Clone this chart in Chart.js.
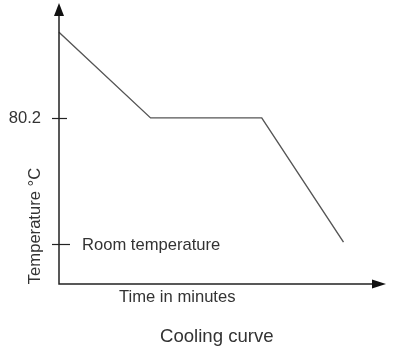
<!DOCTYPE html>
<html>
<head>
<meta charset="utf-8">
<script src="https://cdn.jsdelivr.net/npm/chart.js@4"></script>
<style>
html,body{margin:0;padding:0;background:#fff;}
canvas{display:block;}
</style>
</head>
<body>
<canvas id="c" width="408" height="358"></canvas>
<script>
// Data (arbitrary time units, temperature in °C)
const timeValues = [0, 2.8, 6.2, 8.7];
const temperatureValues = [121, 80.2, 80.2, 21];
const tickValues = [80.2, 20];
const tickLabels = ["80.2", "Room temperature"];
const xAxisTitle = "Time in minutes";
const yAxisTitle = "Temperature °C";
const chartTitle = "Cooling curve";

const FONT = '"Liberation Sans", Arial, sans-serif';
const TEXT = '#333';

const axesPlugin = {
  id: 'axesPlugin',
  afterDraw(chart) {
    const ctx = chart.ctx;
    const a = chart.chartArea;
    const ys = chart.scales.y;
    ctx.save();
    // axes
    ctx.strokeStyle = '#222';
    ctx.lineWidth = 1.5;
    ctx.beginPath();
    ctx.moveTo(a.left, a.top + 8);
    ctx.lineTo(a.left, a.bottom);
    ctx.lineTo(a.right - 8, a.bottom);
    ctx.stroke();
    ctx.fillStyle = '#111';
    // y arrow
    ctx.beginPath();
    ctx.moveTo(a.left, a.top);
    ctx.lineTo(a.left - 5, a.top + 13);
    ctx.lineTo(a.left + 5, a.top + 13);
    ctx.closePath();
    ctx.fill();
    // x arrow
    ctx.beginPath();
    ctx.moveTo(a.right, a.bottom);
    ctx.lineTo(a.right - 14, a.bottom - 4.5);
    ctx.lineTo(a.right - 14, a.bottom + 4.5);
    ctx.closePath();
    ctx.fill();
    // ticks crossing the axis
    ctx.strokeStyle = '#222';
    ctx.lineWidth = 1.2;
    const tickRight = [8, 11];
    tickValues.forEach((v, i) => {
      const y = Math.round(ys.getPixelForValue(v)) + 0.5;
      ctx.beginPath();
      ctx.moveTo(a.left - 7, y);
      ctx.lineTo(a.left + tickRight[i], y);
      ctx.stroke();
    });
    // tick labels
    ctx.fillStyle = TEXT;
    ctx.font = '16.6px ' + FONT;
    ctx.textBaseline = 'middle';
    let y0 = ys.getPixelForValue(tickValues[0]);
    ctx.textAlign = 'right';
    ctx.fillText(tickLabels[0], a.left - 18, y0 + 1);
    let y1 = ys.getPixelForValue(tickValues[1]);
    ctx.textAlign = 'left';
    ctx.fillText(tickLabels[1], a.left + 23, y1 + 1.5);
    // x axis title
    ctx.fillText(xAxisTitle, 119, a.bottom + 13);
    // y axis title
    ctx.save();
    ctx.translate(35, 226);
    ctx.rotate(-Math.PI / 2);
    ctx.textAlign = 'center';
    ctx.fillText(yAxisTitle, 0, 0);
    ctx.restore();
    // chart title
    ctx.font = '18.6px ' + FONT;
    ctx.textAlign = 'left';
    ctx.fillText(chartTitle, 160, 337);
    ctx.restore();
  }
};

new Chart(document.getElementById('c'), {
  type: 'line',
  data: {
    datasets: [{
      data: timeValues.map((t, i) => ({x: t, y: temperatureValues[i]})),
      borderColor: '#555',
      borderWidth: 1.4,
      pointRadius: 0,
      tension: 0,
      fill: false,
      clip: false
    }]
  },
  options: {
    responsive: false,
    animation: false,
    layout: {padding: {left: 59, right: 22, top: 3, bottom: 74}},
    plugins: {legend: {display: false}, tooltip: {enabled: false}, title: {display: false}},
    scales: {
      x: {type: 'linear', min: 0, max: 10, display: false},
      y: {type: 'linear', min: 1, max: 135, display: false}
    }
  },
  plugins: [axesPlugin]
});
</script>
</body>
</html>
